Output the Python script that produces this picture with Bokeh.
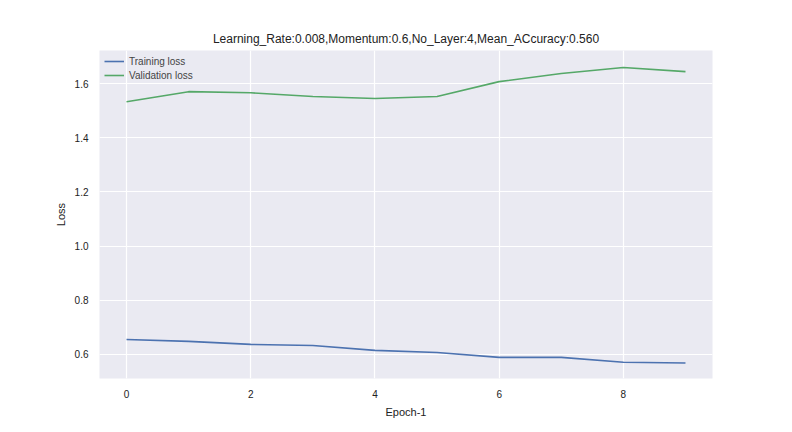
from bokeh.plotting import figure
from bokeh.models import Range1d, FixedTicker, NumeralTickFormatter
from bokeh.embed import file_html
from bokeh.resources import INLINE

epochs = list(range(10))
training_loss = [0.655, 0.648, 0.637, 0.633, 0.615, 0.607, 0.589, 0.589, 0.571, 0.568]
validation_loss = [1.533, 1.570, 1.566, 1.552, 1.545, 1.552, 1.607, 1.637, 1.659, 1.644]

FONT = "Liberation Sans"

p = figure(width=784, height=424, output_backend="svg", toolbar_location=None,
           title="Learning_Rate:0.008,Momentum:0.6,No_Layer:4,Mean_ACcuracy:0.560",
           x_range=Range1d(-0.435, 9.435), y_range=Range1d(0.511, 1.722),
           min_border_left=99, min_border_right=72, min_border_top=50, min_border_bottom=46,
           x_axis_label="Epoch-1", y_axis_label="Loss")
p.frame_width = 613
p.frame_height = 328
p.background_fill_color = "#EAEAF2"
p.border_fill_color = "white"
p.outline_line_color = None
p.title.align = "center"
p.title.text_font = FONT
p.title.text_font_size = "12px"
p.title.text_font_style = "normal"
p.title.text_color = "#222222"

p.line(epochs, training_loss, line_color="#4C72B0", line_width=1.6, legend_label="Training loss")
p.line(epochs, validation_loss, line_color="#55A868", line_width=1.6, legend_label="Validation loss")

p.xaxis.ticker = FixedTicker(ticks=[0, 2, 4, 6, 8])
p.yaxis.ticker = FixedTicker(ticks=[0.6, 0.8, 1.0, 1.2, 1.4, 1.6])
p.yaxis.formatter = NumeralTickFormatter(format="0.0")
for ax in (p.xaxis[0], p.yaxis[0]):
    ax.axis_line_color = None
    ax.major_tick_line_color = None
    ax.minor_tick_line_color = None
    ax.major_label_text_font = FONT
    ax.major_label_text_font_size = "10px"
    ax.major_label_text_color = "#222222"
    ax.axis_label_text_font = FONT
    ax.axis_label_text_font_size = "11px"
    ax.axis_label_text_font_style = "normal"
    ax.axis_label_text_color = "#222222"
p.grid.grid_line_color = "white"
p.grid.grid_line_width = 1.2

p.legend.location = "top_left"
p.legend.background_fill_alpha = 0
p.legend.border_line_color = None
p.legend.label_text_font = FONT
p.legend.label_text_font_size = "10px"
p.legend.label_height = 12
p.legend.glyph_height = 12
p.legend.spacing = 2
p.legend.margin = 5

open("out.html", "w").write(file_html(p, INLINE))
